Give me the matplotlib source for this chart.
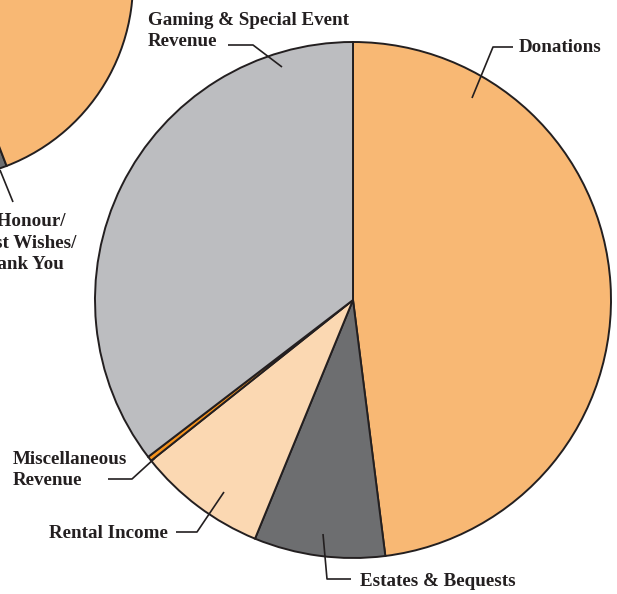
import matplotlib.pyplot as plt

# main pie (clockwise from 12 o'clock)
labels = ['Donations', 'Estates & Bequests', 'Rental Income',
          'Miscellaneous\nRevenue', 'Gaming & Special Event\nRevenue']
values = [48.0, 8.2, 8.1, 0.3, 35.4]
colors = ['#F8B874', '#6D6E70', '#FBD8B2', '#F7941D', '#BCBDC0']

# neighbouring pie, mostly cut off by the page edge
side_labels = ['In Honour/\nBest Wishes/\nThank You', 'Donations']
side_values = [10.0, 90.0]
side_colors = ['#6D6E70', '#F8B874']

W, H = 617, 594
TXT = '#231F20'
plt.rcParams['font.family'] = ['Liberation Serif', 'DejaVu Serif']


def px(x, y):
    # picture pixels -> data coords (y up)
    return x, H - y


fig = plt.figure(figsize=(W / 100, H / 100), dpi=100)
ax = fig.add_axes([0, 0, 1, 1])
ax.set_xlim(0, W)
ax.set_ylim(0, H)
ax.set_aspect('equal')
ax.axis('off')

wp = dict(edgecolor='#231F20', linewidth=1.4)
ax.pie(values, colors=colors, startangle=90, counterclock=False,
       center=px(353, 300), radius=258, wedgeprops=wp)
ax.pie(side_values, colors=side_colors, startangle=-105, counterclock=True,
       center=px(-64, -18), radius=197, wedgeprops=wp)
ax.set_xlim(0, W)
ax.set_ylim(0, H)

# leader lines
leaders = [
    [(472, 98), (493, 47), (513, 47)],
    [(282, 67), (253, 45), (228, 45)],
    [(155, 458), (132, 479), (108, 479)],
    [(224, 492), (197, 532), (176, 532)],
    [(323, 534), (327, 579), (351, 579)],
    [(0, 170), (13, 202)],
]
for pts in leaders:
    xs = [p[0] for p in pts]
    ys = [H - p[1] for p in pts]
    ax.plot(xs, ys, color=TXT, lw=1.2, solid_capstyle='butt')

fs = 13.7
kw = dict(fontsize=fs, fontweight='bold', color=TXT, linespacing=1.36)
ax.text(*px(519, 47), labels[0], ha='left', va='center', **kw)
ax.text(*px(360, 582), labels[1], ha='left', va='center', **kw)
ax.text(*px(168, 533), labels[2], ha='right', va='center', **kw)
ax.text(*px(13, 470), labels[3], ha='left', va='center', **kw)
ax.text(*px(148, 31), labels[4], ha='left', va='center', **kw)
ax.text(*px(-26, 243), side_labels[0], ha='left', va='center', **kw)

fig.savefig('out.png', dpi=100)
